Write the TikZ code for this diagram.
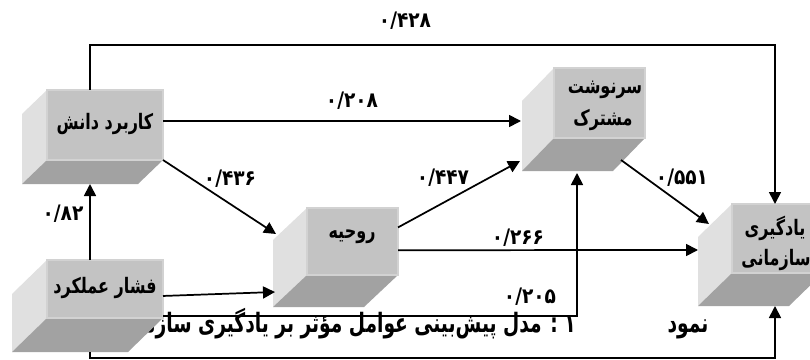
\documentclass[tikz,border=0pt]{standalone}
\usepackage{fontspec}
\TeXXeTstate=1
\newfontfamily\arabicfont[Script=Arabic,FakeStretch=0.87]{DejaVu Sans}
\newfontfamily\arabicnarrow[Script=Arabic,FakeStretch=0.75]{DejaVu Sans}
\newfontfamily\arabiccap[Script=Arabic,FakeStretch=0.7]{DejaVu Sans}
\usetikzlibrary{arrows.meta,calc}
\definecolor{frontc}{HTML}{C3C3C3}
\definecolor{frontb}{HTML}{D2D2D2}
\definecolor{leftc}{HTML}{E0E0E0}
\definecolor{botc}{HTML}{A2A2A2}
% #1 name, #2 cx, #3 cy, #4 w, #5 h, #6 dx, #7 dy
\newcommand{\mkcube}[7]{%
  \fill[leftc] ({#2-#4/2},{#3-#5/2}) -- ++(#6,#7) -- ({#2-#4/2+#6},{#3+#5/2+#7}) -- ({#2-#4/2},{#3+#5/2}) -- cycle;
  \fill[botc] ({#2-#4/2},{#3+#5/2}) -- ++(#6,#7) -- ({#2+#4/2+#6},{#3+#5/2+#7}) -- ({#2+#4/2},{#3+#5/2}) -- cycle;
  \node[front, minimum width={#4*0.75pt}, minimum height={#5*0.75pt}] (#1) at (#2,#3) {};
}
\begin{document}
\begin{tikzpicture}[x=0.75pt,y=-0.75pt,
  front/.style={rectangle, fill=frontc, draw=frontb, line width=0.9pt, inner sep=0pt, outer sep=0pt},
  boxtext/.style={font=\arabicnarrow\bfseries\fontsize{16}{18}\selectfont, inner sep=0pt},
  val/.style={font=\arabicfont\bfseries\fontsize{16}{18}\selectfont, inner sep=0pt},
  captext/.style={font=\arabiccap\bfseries\fontsize{20}{22}\selectfont, inner sep=0pt},
  wire/.style={draw, line width=1.3pt},
  conn/.style={wire, -{Triangle[length=9pt,width=9pt]}}]
\fill[white] (0,0) rectangle (810,360);
\useasboundingbox (0,0) rectangle (810,360);

% caption (partly hidden behind the cube on the left)
\node[captext, anchor=base east] (cap) at (576,332) {\beginR ۱ : مدل پیش‌بینی عوامل مؤثر بر یادگیری سازمانی\endR};
\node[captext, anchor=base] (capn) at (688,332) {\beginR نمود\endR};

% cubes
\mkcube{k1}{105}{125}{116}{70}{-25}{24}
\mkcube{k2}{105}{289}{116}{58}{-35}{34}
\mkcube{k3}{352.5}{241.5}{91}{67}{-34}{32}
\mkcube{k4}{599.5}{103}{91}{70}{-32}{33}
\mkcube{k5}{777.5}{238.5}{91}{69}{-34}{33}

% box texts
\node[boxtext] (k1t) at (105,124) {\beginR کاربرد دانش\endR};
\node[boxtext] (k2t) at (105,288) {\beginR فشار عملکرد\endR};
\node[boxtext] (k3t) at (352,237) {\beginR روحیه\endR};
\node[boxtext] (k4a) at (605,90) {\beginR سرنوشت\endR};
\node[boxtext] (k4b) at (603,120) {\beginR مشترک\endR};
\node[boxtext] (k5a) at (775,228) {\beginR یادگیری\endR};
\node[boxtext] (k5b) at (776,260) {\beginR سازمانی\endR};

% free ends and bends
\coordinate (a1) at (90,45);
\coordinate (a2) at (775,45);
\coordinate (t2) at (521,121);
\coordinate (t3) at (276,234);
\coordinate (k1b) at (90,184);
\coordinate (t5) at (275,292);
\coordinate (t6) at (520,161);
\coordinate (t7) at (698,250);
\coordinate (s8) at (621,160);
\coordinate (t8) at (709,224);
\coordinate (t9) at (577,173);
\coordinate (k2b) at (90,352);
\coordinate (c1) at (90,358);
\coordinate (c2) at (775,358);
\coordinate (k5b2) at (775,306);

% connectors
\draw[conn] (a1 |- k1.north) -- (a1) -- (a2) -- (a2 |- k5.north);
\draw[conn] (k1.east |- t2) -- (t2);
\draw[conn] (k1.south east) -- (t3);
\draw[conn] (k2.north -| a1) -- (k1b);
\draw[conn] ($(k2.north east)!0.62!(k2.south east)$) -- (t5);
\draw[conn] ($(k3.north east)!0.29!(k3.south east)$) -- (t6);
\draw[conn] ($(k3.north east)!0.63!(k3.south east)$) -- (t7);
\draw[conn] (s8) -- (t8);
\draw[conn] ($(k2.north east)!0.97!(k2.south east)$) -| (t9);
\draw[conn] (k2b) -- (c1) -- (c2) -- (k5b2);

% path coefficients
\node[val] (v1) at (405,21) {۰/۴۲۸};
\node[val] (v2) at (352,101) {۰/۲۰۸};
\node[val] (v3) at (230,179) {۰/۴۳۶};
\node[val] (v4) at (63,214) {۰/۸۲};
\node[val] (v5) at (443,178) {۰/۴۴۷};
\node[val] (v6) at (518,238) {۰/۲۶۶};
\node[val] (v7) at (682,178) {۰/۵۵۱};
\node[val] (v8) at (530,297) {۰/۲۰۵};
\end{tikzpicture}
\end{document}
